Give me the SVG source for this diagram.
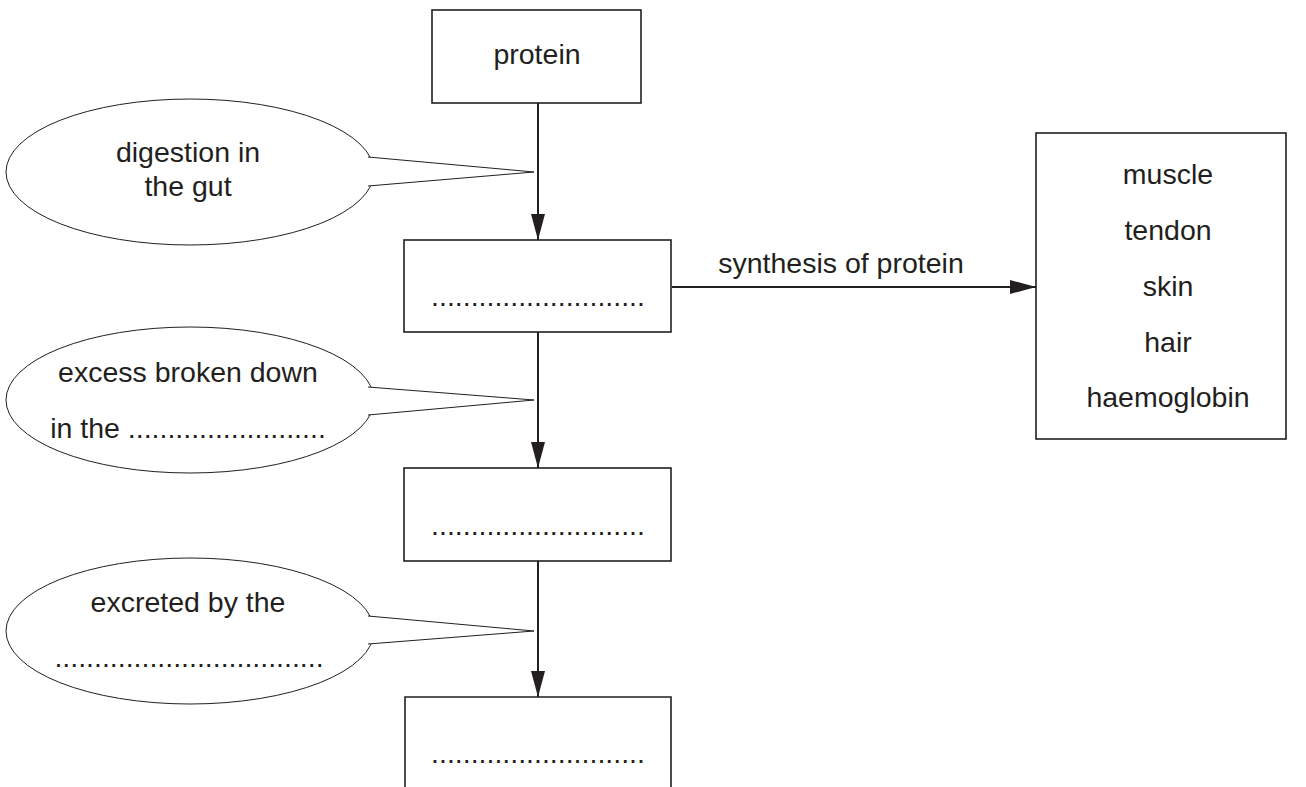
<svg xmlns="http://www.w3.org/2000/svg" width="1306" height="787" viewBox="0 0 1306 787">
<defs>
<style>
.box{fill:#fff;stroke:#231f20;stroke-width:1.6}
.bub{fill:#fff;stroke:#231f20;stroke-width:1}
.t{font-family:"Liberation Sans",Arial,sans-serif;font-size:28.5px;fill:#231f20;text-anchor:middle}
.c{stroke:#231f20;stroke-width:2;fill:none}
</style>
<marker id="ah" viewBox="0 0 26 14" refX="26" refY="7" markerWidth="26" markerHeight="14" markerUnits="userSpaceOnUse" orient="auto">
<path d="M0,0 L26,7 L0,14 Z" fill="#231f20"/>
</marker>
</defs>
<rect width="1306" height="787" fill="#fff"/>
<g id="connectors">
<line class="c" x1="538" y1="103" x2="538" y2="240" marker-end="url(#ah)"/>
<line class="c" x1="538" y1="332" x2="538" y2="468" marker-end="url(#ah)"/>
<line class="c" x1="538" y1="561" x2="538" y2="697" marker-end="url(#ah)"/>
<line class="c" x1="672" y1="287" x2="1036" y2="287" marker-end="url(#ah)"/>
<text class="t" x="841" y="273">synthesis of protein</text>
</g>
<g id="protein">
<rect class="box" x="432" y="10" width="209" height="93"/>
<text class="t" x="537" y="64">protein</text>
</g>
<g id="box2">
<rect class="box" x="404" y="240" width="267" height="92"/>
<text class="t" x="538" y="306">...........................</text>
</g>
<g id="box3">
<rect class="box" x="404" y="468" width="267" height="93"/>
<text class="t" x="538" y="535">...........................</text>
</g>
<g id="box4">
<path class="box" d="M405,790 V697 H671 V790"/>
<text class="t" x="538" y="763">...........................</text>
</g>
<g id="uses">
<rect class="box" x="1036" y="133" width="250" height="306"/>
<text class="t" x="1168" y="184">muscle</text>
<text class="t" x="1168" y="240">tendon</text>
<text class="t" x="1168" y="296">skin</text>
<text class="t" x="1168" y="352">hair</text>
<text class="t" x="1168" y="407">haemoglobin</text>
</g>
<g id="bubble1">
<ellipse class="bub" cx="190" cy="172" rx="184" ry="73"/>
<path class="bub" d="M368,157 L534,172 L368,186" fill="#fff"/>
<path d="M366,157.5 L366,185.5" stroke="#fff" stroke-width="3"/>
<text class="t" x="188" y="162">digestion in</text>
<text class="t" x="188" y="196">the gut</text>
</g>
<g id="bubble2">
<ellipse class="bub" cx="190" cy="400" rx="184" ry="73"/>
<path class="bub" d="M368,387 L534,400 L368,415"/>
<path d="M366,387.5 L366,414.5" stroke="#fff" stroke-width="3"/>
<text class="t" x="188" y="382">excess broken down</text>
<text class="t" x="188" y="438">in the .........................</text>
</g>
<g id="bubble3">
<ellipse class="bub" cx="190" cy="631" rx="184" ry="73"/>
<path class="bub" d="M368,616 L534,631 L368,644"/>
<path d="M366,616.5 L366,643.5" stroke="#fff" stroke-width="3"/>
<text class="t" x="188" y="612">excreted by the</text>
<text class="t" x="189" y="667">..................................</text>
</g>
</svg>
